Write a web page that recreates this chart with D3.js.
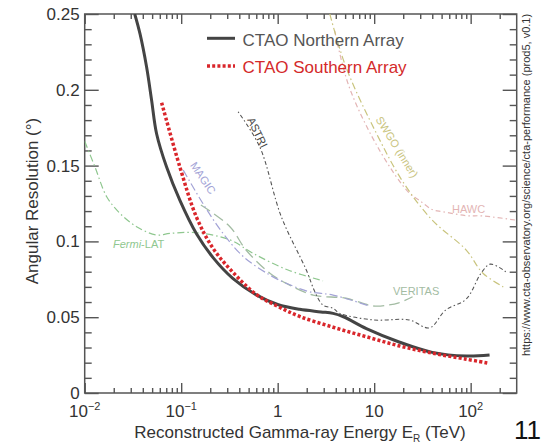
<!DOCTYPE html>
<html><head><meta charset="utf-8">
<script src="https://cdn.jsdelivr.net/npm/d3@7"></script>
<style>body{margin:0;background:#fff;} text{font-family:"Liberation Sans",Arial,sans-serif;}</style>
</head><body><svg id="c" width="545" height="444"></svg>
<script>
// ---- data ----
const xDomain = [0.01, 300];
const yDomain = [0, 0.25];
const yTicks = [0, 0.05, 0.1, 0.15, 0.2, 0.25];
const yTickLabels = ["0", "0.05", "0.1", "0.15", "0.2", "0.25"];
const xTicks = [0.01, 0.1, 1, 10, 100];
const xTickBase = ["10", "10", "1", "10", "10"];
const xTickExp = ["\u22122", "\u22121", "", "", "2"];

const northE = [0.033, 0.0374, 0.0438, 0.0494, 0.0556, 0.0706, 0.097, 0.144, 0.214, 0.345, 0.6, 1.0, 1.69, 2.8, 3.75, 4.8, 8.3, 18.4, 40, 90, 157];
const northR = [0.25, 0.237, 0.215, 0.193, 0.171, 0.149, 0.127, 0.105, 0.0893, 0.0754, 0.0647, 0.0584, 0.0552, 0.0535, 0.0525, 0.0503, 0.0425, 0.0335, 0.0268, 0.0244, 0.0251];

const southE = [0.0627, 0.097, 0.144, 0.214, 0.345, 0.6, 1.0, 1.69, 3.75, 8.3, 18.4, 40, 90, 150];
const southR = [0.1915, 0.149, 0.116, 0.0954, 0.0795, 0.065, 0.0572, 0.0505, 0.0434, 0.0371, 0.031, 0.0263, 0.0223, 0.0198];

const fermiE = [0.01, 0.0128, 0.0169, 0.0232, 0.0345, 0.0556, 0.0765, 0.144, 0.32, 0.556, 1.28, 2.95];
const fermiR = [0.166, 0.149, 0.1295, 0.1185, 0.1097, 0.1042, 0.1053, 0.1057, 0.101, 0.0921, 0.0811, 0.074];

const magicE = [0.105, 0.168, 0.27, 0.44, 0.83, 1.28, 2.14, 3.75, 8.9];
const magicR = [0.147, 0.125, 0.1055, 0.09, 0.0778, 0.0719, 0.0668, 0.0646, 0.0574];

const veritasE = [0.16, 0.32, 0.47, 0.83, 1.23, 2.33, 5.1, 9.8, 14, 18, 25];
const veritasR = [0.124, 0.1097, 0.0943, 0.079, 0.0723, 0.0646, 0.0625, 0.0574, 0.058, 0.0595, 0.0635];

const astriE = [0.389, 0.65, 1.09, 1.98, 2.45, 2.95, 3.75, 4.37, 9.8, 23, 37.5, 55, 90, 128, 160, 231];
const astriR = [0.1855, 0.1625, 0.1163, 0.0811, 0.0662, 0.058, 0.0559, 0.0526, 0.0482, 0.0482, 0.043, 0.0547, 0.062, 0.079, 0.085, 0.080];

const swgoE = [3.47, 5.1, 10.6, 20, 40, 90, 134, 232];
const swgoR = [0.25, 0.215, 0.171, 0.139, 0.114, 0.0943, 0.079, 0.069];

const hawcE = [3.9, 5.5, 11.4, 23, 29.6, 40, 51.5, 90, 133, 297];
const hawcR = [0.239, 0.202, 0.16, 0.132, 0.127, 0.121, 0.1196, 0.117, 0.1168, 0.114];

// ---- layout ----
const svg = d3.select("#c");
const M = {l: 84.7, r: 516.7, t: 14, b: 393};
const x = d3.scaleLog().domain(xDomain).range([M.l, M.r]);
const y = d3.scaleLinear().domain(yDomain).range([M.b, M.t]);
const axisCol = "#555";

// minor ticks
const xMinor = [];
for (let d = -2; d <= 2; d++) for (let m = 2; m <= 9; m++) { const v = m * Math.pow(10, d); if (v < 300) xMinor.push(v); }
const yMinor = d3.range(0, 26).map(i => i / 100).filter(v => Math.abs(v * 20 - Math.round(v * 20)) > 1e-9);

function styleAxis(g) {
  g.select(".domain").remove();
  g.selectAll(".tick line").attr("stroke", axisCol).attr("stroke-width", 1.4);
  g.selectAll(".tick text").remove();
}
const axes = [
  [d3.axisBottom(x), `translate(0,${M.b})`, xTicks, -10, xMinor, -5],
  [d3.axisTop(x), `translate(0,${M.t})`, xTicks, -10, xMinor, -5],
  [d3.axisLeft(y), `translate(${M.l},0)`, yTicks, -14, yMinor, -7],
  [d3.axisRight(y), `translate(${M.r},0)`, yTicks, -14, yMinor, -7]
];
axes.forEach(([ax, tr, maj, ms, mn, ns]) => {
  svg.append("g").attr("transform", tr).call(ax.tickValues(maj).tickSize(ms).tickSizeOuter(0)).call(styleAxis);
  svg.append("g").attr("transform", tr).call(ax.tickValues(mn).tickSize(ns).tickSizeOuter(0)).call(styleAxis);
});
svg.append("rect").attr("x", M.l).attr("y", M.t).attr("width", M.r - M.l).attr("height", M.b - M.t)
  .attr("fill", "none").attr("stroke", axisCol).attr("stroke-width", 1.5);

// tick labels
yTicks.forEach((v, i) => {
  svg.append("text").attr("x", M.l - 5).attr("y", y(v) + 6).attr("text-anchor", "end")
    .attr("font-size", 17).attr("fill", "#333").text(yTickLabels[i]);
});
xTicks.forEach((v, i) => {
  const t = svg.append("text").attr("x", x(v)).attr("y", 417).attr("text-anchor", "middle")
    .attr("font-size", 17).attr("fill", "#333");
  t.append("tspan").text(xTickBase[i]);
  if (xTickExp[i]) t.append("tspan").attr("font-size", 11).attr("dy", -7).text(xTickExp[i]);
});

// axis titles
const xt = svg.append("text").attr("x", 300).attr("y", 438).attr("text-anchor", "middle")
  .attr("font-size", 17).attr("fill", "#333");
xt.append("tspan").text("Reconstructed Gamma-ray Energy E");
xt.append("tspan").attr("font-size", 10).attr("dy", 4).text("R");
xt.append("tspan").attr("dy", -4).text(" (TeV)");
svg.append("text").attr("transform", "translate(38,201) rotate(-90)").attr("text-anchor", "middle")
  .attr("font-size", 17).attr("fill", "#333").text("Angular Resolution (\u00B0)");
svg.append("text").attr("transform", "translate(529.5,185) rotate(-90)").attr("text-anchor", "middle")
  .attr("font-size", 11).attr("fill", "#333").text("https://www.cta-observatory.org/science/cta-performance (prod5, v0.1)");
svg.append("text").attr("x", 514).attr("y", 439).attr("font-size", 26).attr("fill", "#111").text("11");

// curves
svg.append("defs").append("clipPath").attr("id", "pc").append("rect")
  .attr("x", M.l).attr("y", M.t).attr("width", M.r - M.l).attr("height", M.b - M.t);
const line = d3.line().x(d => x(d[0])).y(d => y(d[1])).curve(d3.curveCatmullRom.alpha(0.5));
const plot = svg.append("g").attr("clip-path", "url(#pc)");
const series = [
  {E: hawcE, R: hawcR, c: "#e3b5b5", w: 1.2, dash: "5,3,1.5,3"},
  {E: swgoE, R: swgoR, c: "#c9c47e", w: 1.2, dash: "7,3,1.5,3"},
  {E: fermiE, R: fermiR, c: "#8fc78f", w: 1.2, dash: "7,3,1.5,3"},
  {E: veritasE, R: veritasR, c: "#a3bca3", w: 1.3, dash: "11,5"},
  {E: magicE, R: magicR, c: "#a3a3d6", w: 1.2, dash: "8,3,1.5,3"},
  {E: astriE, R: astriR, c: "#555", w: 1.1, dash: "1.5,2.5,4,2.5"},
  {E: northE, R: northR, c: "#444", w: 3, dash: null},
  {E: southE, R: southR, c: "#d9262b", w: 3.5, dash: "3,2.2"}
];
series.forEach(s => {
  plot.append("path").datum(s.E.map((e, i) => [e, s.R[i]])).attr("d", line)
    .attr("fill", "none").attr("stroke", s.c).attr("stroke-width", s.w)
    .attr("stroke-dasharray", s.dash);
});

// curve labels
function rotLabel(txt, cx, cy, ang, col) {
  svg.append("text").attr("transform", `translate(${cx},${cy}) rotate(${ang})`).attr("text-anchor", "middle")
    .attr("dy", "0.35em").attr("font-size", 11).attr("fill", col).text(txt);
}
rotLabel("MAGIC", 203, 178, 56, "#a3a3d6");
rotLabel("ASTRI", 257.5, 132.5, 64, "#444");
rotLabel("SWGO (inner)", 397, 147, 58, "#c9c47e");
svg.append("text").attr("x", 452).attr("y", 213).attr("font-size", 11).attr("fill", "#e3b5b5").text("HAWC");
svg.append("text").attr("x", 393).attr("y", 295).attr("font-size", 11).attr("fill", "#a3bca3").text("VERITAS");
const fl = svg.append("text").attr("x", 113).attr("y", 248).attr("font-size", 11).attr("fill", "#8fc78f");
fl.append("tspan").attr("font-style", "italic").text("Fermi");
fl.append("tspan").text("-LAT");

// legend
svg.append("line").attr("x1", 207).attr("x2", 235).attr("y1", 38.3).attr("y2", 38.3)
  .attr("stroke", "#444").attr("stroke-width", 3);
svg.append("text").attr("x", 242.5).attr("y", 45.5).attr("font-size", 17).attr("fill", "#555").text("CTAO Northern Array");
svg.append("line").attr("x1", 207).attr("x2", 235).attr("y1", 66).attr("y2", 66)
  .attr("stroke", "#d9262b").attr("stroke-width", 3.5).attr("stroke-dasharray", "3,2.2");
svg.append("text").attr("x", 242.5).attr("y", 72.7).attr("font-size", 17).attr("fill", "#d42a2a").text("CTAO Southern Array");
</script></body></html>
